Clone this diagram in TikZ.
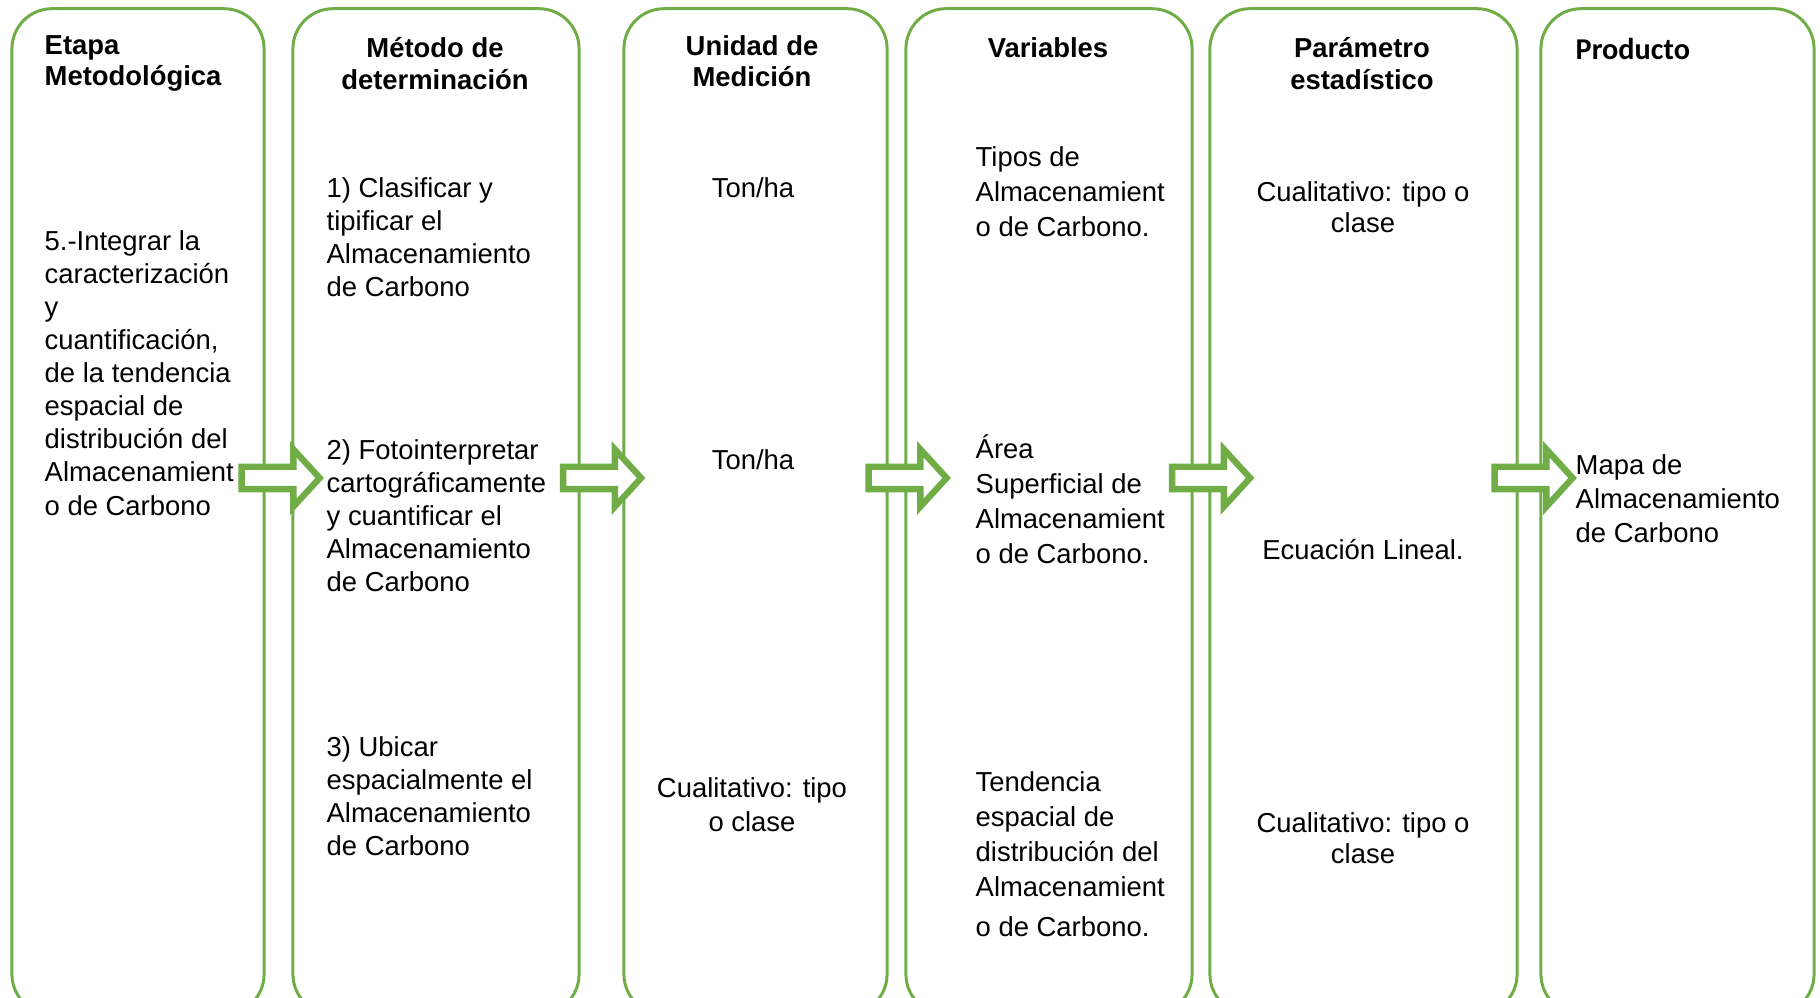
\documentclass[tikz,border=0pt]{standalone}
\usepackage{fontspec}
\setmainfont{Liberation Sans}
\newfontfamily\calibri{Carlito}
\usetikzlibrary{shapes.arrows,positioning,calc}
\definecolor{verde}{HTML}{70AD47}

\tikzset{
  caja/.style={draw=verde, line width=0.85pt, rounded corners=0.4cm, minimum height=10.05cm},
  flecha/.style={single arrow, draw=verde, fill=white, line width=1.8pt, inner sep=0.08cm, minimum height=0.78cm, single arrow head extend=0.175cm, single arrow tip angle=95},
  texto/.style={inner sep=0, align=left, anchor=north west, font=\fontsize{7.8pt}{9.4pt}\selectfont},
  textoc/.style={texto, align=center, anchor=north},
  textov/.style={texto, font=\fontsize{7.8pt}{9.95pt}\selectfont},
  titulo/.style={inner sep=0, align=center, anchor=north, font=\fontsize{7.8pt}{8.9pt}\selectfont\bfseries},
}

\begin{document}
\begin{tikzpicture}[x=0.01cm,y=-0.01cm]
\useasboundingbox (0,0) rectangle (1820,998);
\clip (0,0) rectangle (1820,998);

% columnas
\node [caja, minimum width=2.52cm] (c1) at (138,511.5) {};
\node [caja, minimum width=2.86cm] (c2) at (436,511.5) {};
\node [caja, minimum width=2.63cm] (c3) at (755.5,511.5) {};
\node [caja, minimum width=2.86cm] (c4) at (1049,511.5) {};
\node [caja, minimum width=3.07cm] (c5) at (1363.5,511.5) {};
\node [caja, minimum width=2.73cm] (c6) at (1677.5,511.5) {};

% encabezados
\node [titulo, align=left, anchor=north west] (h1) at (44,35) {Etapa\\Metodológica};
\node [titulo] (h2) at (435,37) {Método de\\determinación};
\node [titulo] (h3) at (752,35) {Unidad de\\Medición};
\node [titulo] (h4) at (1048,37) {Variables};
\node [titulo] (h5) at (1362,37) {Parámetro\\estadístico};
\node [inner sep=0, anchor=north west, font=\fontsize{8.6pt}{10pt}\selectfont\calibri\bfseries] (h6) at (1575,38) {Producto};

% etapa
\node [texto] (e1) at (44,230) {5.-Integrar la\\caracterización\\y\\cuantificación,\\de la tendencia\\espacial de\\distribución del\\Almacenamient\\o de Carbono};

% metodo
\node [texto] (m1) at (326,177) {1) Clasificar y\\tipificar el\\Almacenamiento\\de Carbono};
\node [texto] (m2) at (326,439) {2) Fotointerpretar\\cartográficamente\\y cuantificar el\\Almacenamiento\\de Carbono};
\node [texto] (m3) at (326,736) {3) Ubicar\\espacialmente el\\Almacenamiento\\de Carbono};

% unidad
\node [textoc] (u1) at (753,177) {Ton/ha};
\node [textoc] (u2) at (753,449) {Ton/ha};
\node [textoc, font=\fontsize{7.8pt}{9.6pt}\selectfont] (u3) at (752,777) {Cualitativo: tipo\\o clase};

% variables
\node [textov] (v1) at (975,146) {Tipos de\\Almacenamient\\o de Carbono.};
\node [textov] (v2) at (975,434) {Área\\Superficial de\\Almacenamient\\o de Carbono.};
\node [textov] (v3) at (975,771) {Tendencia\\espacial de\\distribución del\\Almacenamient\\[1.5pt]o de Carbono.};

% parametro
\node [textoc, font=\fontsize{7.8pt}{8.9pt}\selectfont] (p1) at (1363,181) {Cualitativo: tipo o\\clase};
\node [textoc] (p2) at (1363,539) {Ecuación Lineal.};
\node [textoc, font=\fontsize{7.8pt}{8.9pt}\selectfont] (p3) at (1363,812) {Cualitativo: tipo o\\clase};

% producto
\node [texto, font=\fontsize{7.8pt}{9.6pt}\selectfont] (r1) at (1575,454) {Mapa de\\Almacenamiento\\de Carbono};

% flechas
\node [flecha] (f1) at (275.5,478) {};
\node [flecha] (f2) at (597,478) {};
\node [flecha] (f3) at (902.5,478) {};
\node [flecha] (f4) at (1206,478) {};
\node [flecha] (f5) at (1528.5,478) {};

\end{tikzpicture}
\end{document}
